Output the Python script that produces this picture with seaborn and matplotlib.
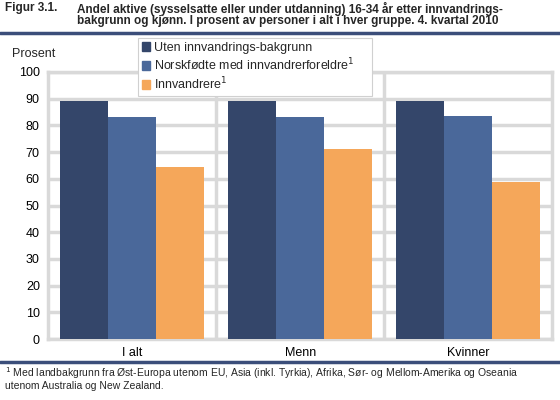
import pandas as pd
import matplotlib.pyplot as plt
import seaborn as sns
from matplotlib.lines import Line2D

# ---------- Data ----------
categories = ["I alt", "Menn", "Kvinner"]
groups = ["Uten innvandrings-bakgrunn",
          "Norskfødte med innvandrerforeldre$^1$",
          "Innvandrere$^1$"]
uten_bakgrunn = [89.1, 89.1, 89.1]
norskfodte = [83.3, 83.3, 83.6]
innvandrere = [64.4, 71.2, 58.8]
colors = ["#34466A", "#4A689A", "#F5A75A"]

rows = []
for name, vals in zip(groups, [uten_bakgrunn, norskfodte, innvandrere]):
    for cat, v in zip(categories, vals):
        rows.append({"Gruppe": name, "Kategori": cat, "Prosent": v})
df = pd.DataFrame(rows)

# ---------- Style ----------
sns.set_style("white")
plt.rcParams["font.family"] = ["Liberation Sans", "DejaVu Sans"]
grid_c = "#D9D9D9"
rule_c = "#3B4E7A"

fig = plt.figure(figsize=(5.6, 4.0), dpi=100)
ax = fig.add_axes([0.086, 0.1525, 0.9, 0.6675])

sns.barplot(data=df, x="Kategori", y="Prosent", hue="Gruppe",
            palette=colors, width=0.86, saturation=1, ax=ax, zorder=3,
            legend=False, linewidth=0)

ax.set_ylim(0, 100)
ax.set_yticks(range(0, 101, 10))
ax.set_xlim(-0.5, 2.5)
ax.set_xlabel("")
ax.set_ylabel("")
ax.yaxis.grid(True, color=grid_c, linewidth=2.5, zorder=0)
for x in [0.5, 1.5]:
    ax.axvline(x, color=grid_c, linewidth=2.5, zorder=0)
for s in ax.spines.values():
    s.set_color(grid_c)
    s.set_linewidth(2.5)
ax.tick_params(axis="both", length=0, labelsize=9, colors="black", pad=6)

# legend
handles = [plt.Rectangle((0, 0), 1, 1, color=c) for c in colors]
leg = fig.legend(handles, groups, loc="upper left",
                 bbox_to_anchor=(0.246, 0.77, 0.418, 0.135), mode="expand",
                 frameon=True, fontsize=9, handlelength=0.7, handleheight=0.7,
                 handletextpad=0.3, labelspacing=0.2, borderpad=0.3,
                 borderaxespad=0, fancybox=False, framealpha=1)
leg.get_frame().set_edgecolor("#D0D0D0")
leg.get_frame().set_linewidth(0.8)

fig.text(0.022, 0.858, "Prosent", fontsize=9)

# title
fig.text(0.009, 0.994, "Figur 3.1.", fontsize=8.5, fontweight="bold", va="top")
fig.text(0.138, 0.994,
         "Andel aktive (sysselsatte eller under utdanning) 16-34 år etter innvandrings-\n"
         "bakgrunn og kjønn. I prosent av personer i alt i hver gruppe. 4. kvartal 2010",
         fontsize=8.5, fontweight="bold", va="top", linespacing=0.88)
fig.add_artist(Line2D([0.0, 1.0], [0.918, 0.918], color=rule_c, linewidth=2.5))
fig.add_artist(Line2D([0.0, 1.0], [0.095, 0.095], color=rule_c, linewidth=2.5))

# footnote
fig.text(0.009, 0.088,
         "$^1$ Med landbakgrunn fra Øst-Europa utenom EU, Asia (inkl. Tyrkia), Afrika, Sør- og Mellom-Amerika og Oseania\n"
         "utenom Australia og New Zealand.",
         fontsize=7.5, va="top", linespacing=1.1)

fig.savefig("out.png", dpi=100)
